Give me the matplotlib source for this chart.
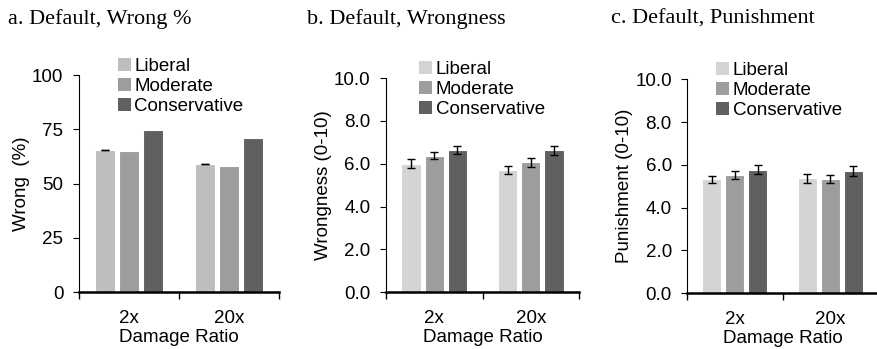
import numpy as np
import matplotlib.pyplot as plt

# ---------------------------------------------------------------------
# Data
# ---------------------------------------------------------------------
groups = ['Liberal', 'Moderate', 'Conservative']
ratios = ['2x', '20x']

wrong_pct = {'Liberal': [65.3, 58.8], 'Moderate': [65.2, 58.1], 'Conservative': [74.6, 71.0]}
wrong_pct_err = {'Liberal': [0.0, 0.0], 'Moderate': None, 'Conservative': None}

wrongness = {'Liberal': [6.01, 5.72], 'Moderate': [6.38, 6.06], 'Conservative': [6.64, 6.63]}
wrongness_err = {'Liberal': [0.19, 0.18], 'Moderate': [0.17, 0.19], 'Conservative': [0.20, 0.21]}

punishment = {'Liberal': [5.32, 5.37], 'Moderate': [5.52, 5.35], 'Conservative': [5.76, 5.70]}
punishment_err = {'Liberal': [0.16, 0.20], 'Moderate': [0.18, 0.19], 'Conservative': [0.21, 0.23]}

# ---------------------------------------------------------------------
# Style
# ---------------------------------------------------------------------
plt.rcParams['font.family'] = ['Liberation Sans', 'DejaVu Sans']
fs = 13.5

panels = [
    dict(title='a. Default, Wrong %', vals=wrong_pct, errs=wrong_pct_err,
         ylabel='Wrong  (%)', ylim=(0, 100), yticks=[0, 25, 50, 75, 100], fmt='{:.0f}',
         colors=['#bebebe', '#9d9d9d', '#606060'],
         rect=[0.0895, 0.163, 0.228, 0.622], leg_x=0.195, title_x=8),
    dict(title='b. Default, Wrongness', vals=wrongness, errs=wrongness_err,
         ylabel='Wrongness (0-10)', ylim=(0, 10), yticks=[0, 2, 4, 6, 8, 10], fmt='{:.1f}',
         colors=['#d4d4d4', '#9d9d9d', '#606060'],
         rect=[0.4396, 0.163, 0.220, 0.613], leg_x=0.17, title_x=307),
    dict(title='c. Default, Punishment', vals=punishment, errs=punishment_err,
         ylabel='Punishment (0-10)', ylim=(0, 10), yticks=[0, 2, 4, 6, 8, 10], fmt='{:.1f}',
         colors=['#d4d4d4', '#9d9d9d', '#606060'],
         rect=[0.7825, 0.160, 0.2175, 0.613], leg_x=0.15, title_x=611),
]

fig = plt.figure(figsize=(8.78, 3.49), dpi=100)

x = np.arange(len(ratios))
w = 0.2
step = 0.24

for p in panels:
    ax = fig.add_axes(p['rect'])
    for i, g in enumerate(groups):
        ax.bar(x + (i - 1) * step, p['vals'][g], width=w, color=p['colors'][i],
               edgecolor='white', linewidth=0.8, label=g,
               yerr=p['errs'][g], capsize=3.2,
               error_kw=dict(elinewidth=1.0, capthick=1.0, ecolor='black'))

    ax.set_xlim(-0.5, 1.5)
    ax.set_ylim(*p['ylim'])
    ax.set_yticks(p['yticks'])
    ax.set_yticklabels([p['fmt'].format(t) for t in p['yticks']], fontsize=fs)
    ax.set_xticks(x)
    ax.set_xticklabels(ratios, fontsize=fs)
    ax.set_xticks([-0.5, 0.5, 1.5], minor=True)
    ax.tick_params(axis='x', which='major', length=0, pad=13)
    ax.tick_params(axis='x', which='minor', length=5, width=1.0, direction='out')
    ax.tick_params(axis='y', length=4, width=0.8, direction='out', pad=7)

    ax.spines['top'].set_visible(False)
    ax.spines['right'].set_visible(False)
    ax.spines['left'].set_linewidth(0.8)
    ax.spines['bottom'].set_linewidth(1.8)
    ax.spines['bottom'].set_color('black')

    ax.set_xlabel('Damage Ratio', fontsize=fs, labelpad=1.5)
    ax.set_ylabel(p['ylabel'], fontsize=fs, labelpad=1.5)

    leg = ax.legend(loc='upper left', bbox_to_anchor=(p['leg_x'], 1.08), frameon=False,
                    fontsize=fs, handlelength=0.7, handleheight=0.7, handletextpad=0.2,
                    labelspacing=0.16, borderpad=0, borderaxespad=0)
    for h in leg.legend_handles:
        h.set_edgecolor('none')

    fig.text(p['title_x'] / 878, 1 - 19 / 349, p['title'], family='Liberation Serif',
             fontsize=16, ha='left', va='center')

fig.savefig('out.png', dpi=100)
